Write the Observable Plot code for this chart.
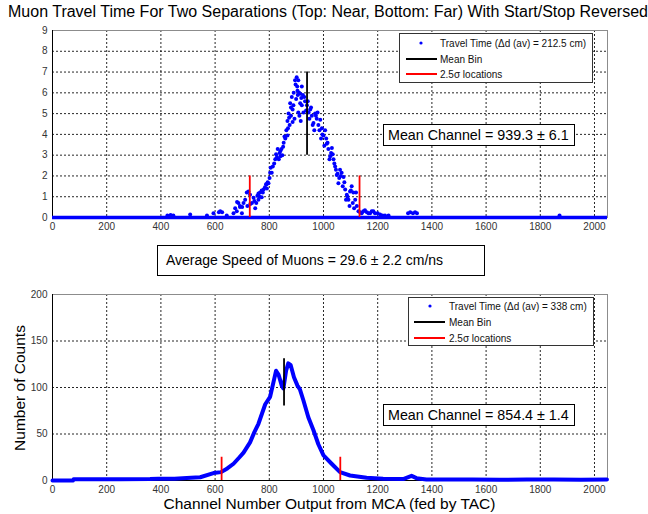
<!DOCTYPE html>
<html><head><meta charset="utf-8">
<script src="https://cdn.jsdelivr.net/npm/d3@7"></script>
<script src="https://cdn.jsdelivr.net/npm/@observablehq/plot@0.6"></script>
<style>
body{margin:0;background:#fff;font-family:"Liberation Sans",Arial,sans-serif;}
#wrap{position:relative;width:648px;height:514px;overflow:hidden;background:#fff;}
.abs{position:absolute;white-space:nowrap;color:#000;}
.box{position:absolute;background:#fff;border:1px solid #000;box-sizing:border-box;white-space:nowrap;}
.plot{position:absolute;left:0;}
</style></head><body><div id="wrap"></div>
<script>
// ---------- data ----------
const xTicks = [0,200,400,600,800,1000,1200,1400,1600,1800,2000];
const topYTicks = [0,1,2,3,4,5,6,7,8,9];
const bottomYTicks = [0,50,100,150,200];

// Top panel (near): channel / count points
const topChannels = [424,436,446,508,570,594,614,619,626,643,668,674,680,681,686,692,692,699,711,717,719,723,729,730,736,742,748,752,756,760,760,766,772,772,779,788,790,791,797,801,803,805,809,813,822,825,831,835,841,841,848,851,853,859,863,867,867,871,875,877,880,883,886,889,893,895,899,901,904,907,907,911,914,914,916,920,920,926,929,932,936,939,945,948,951,957,960,963,966,969,975,978,981,985,988,991,994,1000,1003,1006,1010,1012,1018,1022,1025,1031,1034,1037,1043,1046,1049,1055,1058,1061,1067,1071,1074,1080,1083,1086,1092,1096,1098,1104,1108,1110,1113,1117,1120,1123,1129,1141,1153,1166,1178,1190,1209,1227,1312,1320,1330,1338,1345,1871,
  897,903,910,905,918,924,890,886,880,873,869,856,845,838,828,818,942,954,972,996,1015,1028,1040,1052,1064,1077,1089,1101,1135,1147,1160,1172,1184,1200,1218,1240,700,705,745,764,776,784,794];
const topCounts = [0.1,0.12,0.1,0.15,0.1,0.2,0.25,0.3,0.25,0.1,0.2,0.45,0.3,0.75,0.7,0.55,0.5,0.2,0.85,1.2,0.55,1.25,1.1,0.65,0.7,0.95,0.45,0.7,1.05,0.85,1.15,1.2,0.98,1.3,1.35,1.6,1.6,1.4,1.65,1.9,2.15,2.4,2.15,2.45,2.8,3.05,3.3,2.8,3.2,2.95,3.0,3.4,3.6,3.8,4.2,4.65,3.95,5.0,4.45,5.5,4.9,5.8,4.6,5.4,4.75,6.6,5.7,6.75,6.1,6.6,5.05,4.9,5.95,5.5,4.65,6.3,5.4,5.05,5.8,5.6,5.15,5.4,5.05,4.75,5.2,4.9,4.45,4.55,4.2,5.0,4.75,5.05,4.45,4.2,4.7,3.8,4.3,3.95,3.45,4.2,3.8,3.55,3.3,2.8,2.95,3.35,3.05,2.8,2.45,2.3,2.05,1.65,1.9,2.3,2.15,1.5,1.95,1.35,0.85,1.1,0.85,0.55,1.25,1.5,0.7,1.2,0.45,0.85,1.2,0.55,0.3,0.2,0.35,0.2,0.3,0.2,0.15,0.1,0.2,0.25,0.2,0.25,0.2,0.1,
  6.4,6.3,6.0,5.9,5.75,5.9,6.0,5.2,5.3,4.8,4.3,3.9,3.3,3.1,2.9,2.6,5.6,5.3,4.9,4.0,3.6,3.1,2.6,2.1,2.0,1.7,1.0,1.3,0.25,0.3,0.25,0.2,0.3,0.2,0.1,0.1,0.5,0.7,0.8,1.0,1.2,1.45,1.7];
// channels with zero counts (runs along the baseline)
const topZeroRuns = [[0,2048]];

// Bottom panel (far)
const bottomChannels = [0,40,76,78,150,250,360,390,450,480,511,545,594,622,645,668,690,705,729,745,760,785,803,818,825,834,846,852,862,870,879,891,904,913,926,944,963,981,1000,1030,1061,1098,1159,1220,1294,1325,1343,1380,1466,1550,1650,1750,1850,1950,2046];
const bottomCounts = [0,0,0,1.3,1.3,1.4,1.5,2,2,2.5,3,3.5,8,9,13,18,25,30,41,52,61,82,90,109,118,114,102,99,118,126,124,111,102,98,86,68,54,39,27,18,9,5.4,3,2,1.6,5,2.5,1,1,1.2,0.8,1,1.2,0.8,1];

// Markers: mean bin and 2.5 sigma locations
const topMean = [{x:939.3, y1:3, y2:7}];
const topSigma = [{x:728, y1:0, y2:2},{x:1133, y1:0, y2:2}];
const bottomMean = [{x:854.4, y1:80, y2:131}];
const bottomSigma = [{x:624, y1:0, y2:25},{x:1062, y1:0, y2:25}];

// Texts
const titleText = "Muon Travel Time For Two Separations (Top: Near, Bottom: Far) With Start/Stop Reversed";
const speedText = "Average Speed of Muons = 29.6 \u00b1 2.2 cm/ns";
const topMeanText = "Mean Channel = 939.3 \u00b1 6.1";
const bottomMeanText = "Mean Channel = 854.4 \u00b1 1.4";
const topLegend = ["Travel Time (\u0394d (av) = 212.5 cm)","Mean Bin","2.5\u03c3 locations"];
const bottomLegend = ["Travel Time (\u0394d (av) = 338 cm)","Mean Bin","2.5\u03c3 locations"];
const xLabel = "Channel Number Output from MCA (fed by TAC)";
const yLabel = "Number of Counts";

// ---------- build ----------
const BLUE = "#0000ff";
const topData = topChannels.map((c,i)=>({x:c,y:topCounts[i]}));
const bottomData = bottomChannels.map((c,i)=>({x:c,y:bottomCounts[i]}));
const zeroRuns = topZeroRuns.map(([a,b])=>({x1:a,x2:b,y:0}));

function common(yDomain, yTicks, height, mt, mb){
  return {
    width:648, height, marginLeft:52, marginRight:41, marginTop:mt, marginBottom:mb,
    x:{domain:[0,2048], label:null},
    y:{domain:yDomain, label:null},
    style:{fontFamily:"'Liberation Sans', Arial, sans-serif", fontSize:"10px", color:"#000", background:"transparent", overflow:"visible"}
  };
}
function gridMarks(yTicks){
  return [
    Plot.gridX(xTicks.filter(d=>d>0), {stroke:"#000", strokeOpacity:0.85, strokeDasharray:"2,2"}),
    Plot.gridY(yTicks.filter((d,i)=>i>0 && i<yTicks.length-1), {stroke:"#000", strokeOpacity:0.85, strokeDasharray:"2,2"}),
    Plot.frame({stroke:"#8c8c8c"}),
    Plot.ruleX([0], {stroke:"#000"}),
    Plot.ruleY([0], {stroke:"#000"}),
    Plot.axisX(xTicks, {tickSize:0, tickPadding:5, fill:"#333", tickFormat:d=>String(d)}),
    Plot.axisY(yTicks, {tickSize:0, tickPadding:5, fill:"#333", tickFormat:d=>String(d)})
  ];
}

const topPlot = Plot.plot({
  ...common([0,9], topYTicks, 222, 10, 25),
  marks:[
    ...gridMarks(topYTicks),
    Plot.ruleY(zeroRuns, {x1:"x1", x2:"x2", y:"y", stroke:BLUE, strokeWidth:3.5}),
    Plot.dot(topData, {x:"x", y:"y", r:2, fill:BLUE, stroke:null}),
    Plot.ruleX(topMean, {x:"x", y1:"y1", y2:"y2", stroke:"#000", strokeWidth:1.8}),
    Plot.ruleX(topSigma, {x:"x", y1:"y1", y2:"y2", stroke:"#ff0000", strokeWidth:1.8})
  ]
});
const bottomPlot = Plot.plot({
  ...common([0,200], bottomYTicks, 220, 14, 20),
  marks:[
    ...gridMarks(bottomYTicks),
    Plot.line(bottomData, {x:"x", y:"y", stroke:BLUE, strokeWidth:4, strokeLinejoin:"round", strokeLinecap:"round"}),
    Plot.ruleX(bottomMean, {x:"x", y1:"y1", y2:"y2", stroke:"#000", strokeWidth:1.8}),
    Plot.ruleX(bottomSigma, {x:"x", y1:"y1", y2:"y2", stroke:"#ff0000", strokeWidth:1.8})
  ]
});

const wrap = document.getElementById("wrap");
topPlot.classList.add("plot"); topPlot.style.top = "20px";
bottomPlot.classList.add("plot"); bottomPlot.style.top = "280px";
wrap.appendChild(topPlot);
wrap.appendChild(bottomPlot);

function addDiv(cls, text, css){
  const d = document.createElement("div");
  d.className = cls; d.textContent = text; Object.assign(d.style, css); wrap.appendChild(d); return d;
}
addDiv("abs", titleText, {left:"0px", width:"656px", top:"3px", textAlign:"center", fontSize:"16px", lineHeight:"18px"});
addDiv("box", speedText, {left:"157px", top:"245px", width:"328px", height:"31px", fontSize:"14px", lineHeight:"29px", paddingLeft:"8px"});
addDiv("box", topMeanText, {left:"383px", top:"124px", width:"192px", height:"22px", fontSize:"14.3px", lineHeight:"20px", paddingLeft:"4px"});
addDiv("box", bottomMeanText, {left:"383px", top:"404px", width:"192px", height:"22px", fontSize:"14.3px", lineHeight:"20px", paddingLeft:"4px"});
addDiv("abs", xLabel, {left:"52px", width:"555px", top:"495px", textAlign:"center", fontSize:"15.5px", lineHeight:"18px"});
addDiv("abs", yLabel, {left:"20px", top:"388px", fontSize:"15.5px", lineHeight:"18px", transform:"translate(-50%,-50%) rotate(-90deg)"});

function legend(labels, box, dotX, textX, rowsY, lineX1, lineX2){
  const b = document.createElement("div");
  b.className = "box";
  Object.assign(b.style, {left:box[0]+"px", top:box[1]+"px", width:(box[2]-box[0])+"px", height:(box[3]-box[1])+"px", border:"1px solid #333"});
  wrap.appendChild(b);
  const ns = "http://www.w3.org/2000/svg";
  const svg = document.createElementNS(ns, "svg");
  svg.setAttribute("width", 648); svg.setAttribute("height", 514);
  Object.assign(svg.style, {position:"absolute", left:"0px", top:"0px", pointerEvents:"none"});
  const c = document.createElementNS(ns, "circle");
  c.setAttribute("cx", dotX); c.setAttribute("cy", rowsY[0]); c.setAttribute("r", 1.6); c.setAttribute("fill", BLUE);
  svg.appendChild(c);
  [["#000",rowsY[1]],["#ff0000",rowsY[2]]].forEach(([col,y])=>{
    const l = document.createElementNS(ns, "line");
    l.setAttribute("x1", lineX1); l.setAttribute("x2", lineX2); l.setAttribute("y1", y); l.setAttribute("y2", y);
    l.setAttribute("stroke", col); l.setAttribute("stroke-width", 2); svg.appendChild(l);
  });
  labels.forEach((t,i)=>{
    const tx = document.createElementNS(ns, "text");
    tx.setAttribute("x", textX); tx.setAttribute("y", rowsY[i]); tx.setAttribute("dy", "0.35em");
    tx.setAttribute("font-size", "10"); tx.setAttribute("font-family", "'Liberation Sans', Arial, sans-serif");
    tx.setAttribute("fill", "#111");
    tx.textContent = t; svg.appendChild(tx);
  });
  wrap.appendChild(svg);
}
legend(topLegend, [399,33,593,83], 421, 440, [43,59,74], 406, 437);
legend(bottomLegend, [408,297,594,346], 430, 449, [306,322,338], 414, 445);
</script>
</body></html>
